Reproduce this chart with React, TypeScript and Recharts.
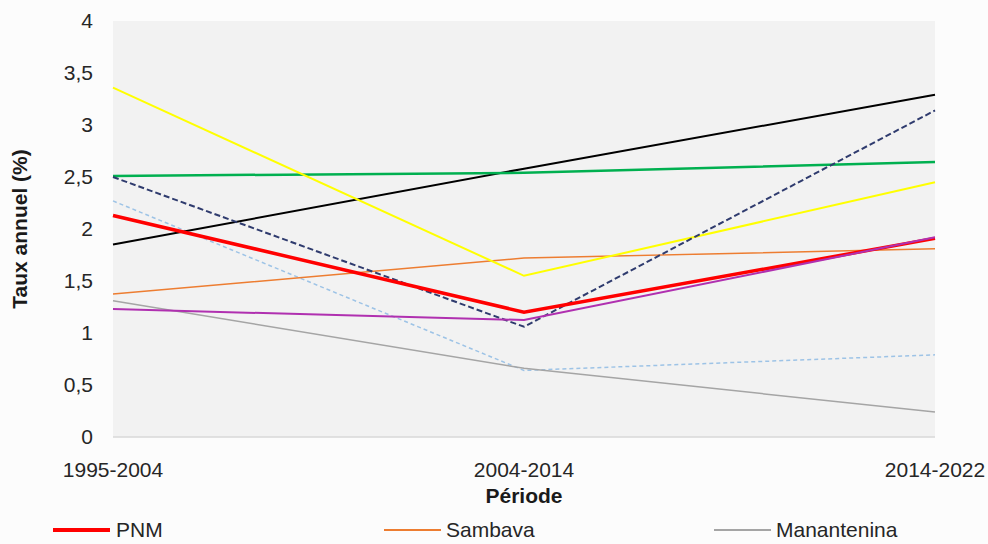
import React from "react";
import { LineChart, Line, XAxis, YAxis, CartesianGrid, Legend } from "recharts";

// Periods on the category axis
const periods = ["1995-2004", "2004-2014", "2014-2022"];

// Annual rate (%) per site and period
const pnm = [2.13, 1.2, 1.91];
const sambava = [1.375, 1.72, 1.81];
const manantenina = [1.31, 0.66, 0.24];
const andapa = [1.85, 2.58, 3.29];
const antalaha = [2.51, 2.54, 2.645];
const vohemar = [3.36, 1.55, 2.45];
const doany = [2.5, 1.06, 3.14];
const ambodiangezoka = [1.23, 1.125, 1.92];
const bemanevika = [2.27, 0.64, 0.79];

const yTicks = [0, 0.5, 1, 1.5, 2, 2.5, 3, 3.5, 4];

const data = periods.map((p, i) => ({
  period: p,
  PNM: pnm[i],
  Sambava: sambava[i],
  Manantenina: manantenina[i],
  Andapa: andapa[i],
  Antalaha: antalaha[i],
  Vohemar: vohemar[i],
  Doany: doany[i],
  Ambodiangezoka: ambodiangezoka[i],
  Bemanevika: bemanevika[i],
}));

const FONT = "'Liberation Sans', Arial, sans-serif";
const TEXT = "#262626";

const legendItems = [
  { name: "PNM", color: "#ff0000", width: 3.5, lineX: 53, textX: 116 },
  { name: "Sambava", color: "#ed7d31", width: 1.5, lineX: 384, textX: 446 },
  { name: "Manantenina", color: "#a5a5a5", width: 1.5, lineX: 714, textX: 776 },
];

const renderLegend = () => (
  <div style={{ position: "relative", width: 988, height: 37 }}>
    {legendItems.map((it) => (
      <React.Fragment key={it.name}>
        <div
          style={{
            position: "absolute",
            left: it.lineX,
            top: 23 - it.width / 2,
            width: 57,
            height: it.width,
            background: it.color,
          }}
        />
        <div
          style={{
            position: "absolute",
            left: it.textX,
            top: 11,
            fontFamily: FONT,
            fontSize: 21,
            lineHeight: "24px",
            color: TEXT,
            whiteSpace: "nowrap",
          }}
        >
          {it.name}
        </div>
      </React.Fragment>
    ))}
  </div>
);

export default function App() {
  return (
    <div style={{ position: "absolute", left: 0, top: 0, width: 988, height: 544, background: "#fcfcfc", overflow: "hidden" }}>
      <LineChart
        width={988}
        height={544}
        data={data}
        margin={{ top: 21, right: 53, left: 0, bottom: 0 }}
      >
        <CartesianGrid fill="#f2f2f2" horizontal={false} vertical={false} />
        <XAxis
          dataKey="period"
          height={70}
          padding={{ left: 0, right: 0 }}
          axisLine={{ stroke: "#d9d9d9", strokeWidth: 1.5 }}
          tickLine={false}
          tickSize={6}
          tickMargin={19}
          tick={{ fill: TEXT, fontSize: 21, fontFamily: FONT }}
          interval={0}
          label={{
            value: "Période",
            position: "insideBottom",
            offset: 4,
            style: { fill: "#1a1a1a", fontSize: 21, fontWeight: 700, fontFamily: FONT },
          }}
        />
        <YAxis
          width={113}
          domain={[0, 4]}
          ticks={yTicks}
          axisLine={false}
          tickLine={false}
          tickSize={6}
          tickMargin={14}
          tickFormatter={(v: number) => String(v).replace(".", ",")}
          tick={{ fill: TEXT, fontSize: 21, fontFamily: FONT }}
          label={{
            value: "Taux annuel (%)",
            angle: -90,
            position: "insideLeft",
            offset: 20,
            style: { textAnchor: "middle", fill: "#1a1a1a", fontSize: 21, fontWeight: 700, fontFamily: FONT },
          }}
        />
        <Legend verticalAlign="bottom" height={37} content={renderLegend} />
        <Line dataKey="Bemanevika" stroke="#9dc3e6" strokeWidth={1.5} strokeDasharray="4 3" dot={false} isAnimationActive={false} />
        <Line dataKey="Manantenina" stroke="#a5a5a5" strokeWidth={1.5} dot={false} isAnimationActive={false} />
        <Line dataKey="Sambava" stroke="#ed7d31" strokeWidth={1.5} dot={false} isAnimationActive={false} />
        <Line dataKey="Andapa" stroke="#000000" strokeWidth={2} dot={false} isAnimationActive={false} />
        <Line dataKey="Antalaha" stroke="#00b050" strokeWidth={2.5} dot={false} isAnimationActive={false} />
        <Line dataKey="Vohemar" stroke="#ffff00" strokeWidth={2} dot={false} isAnimationActive={false} />
        <Line dataKey="Doany" stroke="#2f3b6e" strokeWidth={2} strokeDasharray="6 3" dot={false} isAnimationActive={false} />
        <Line dataKey="PNM" stroke="#ff0000" strokeWidth={3.5} dot={false} isAnimationActive={false} />
        <Line dataKey="Ambodiangezoka" stroke="#b030b0" strokeWidth={2} dot={false} isAnimationActive={false} />
      </LineChart>
    </div>
  );
}
